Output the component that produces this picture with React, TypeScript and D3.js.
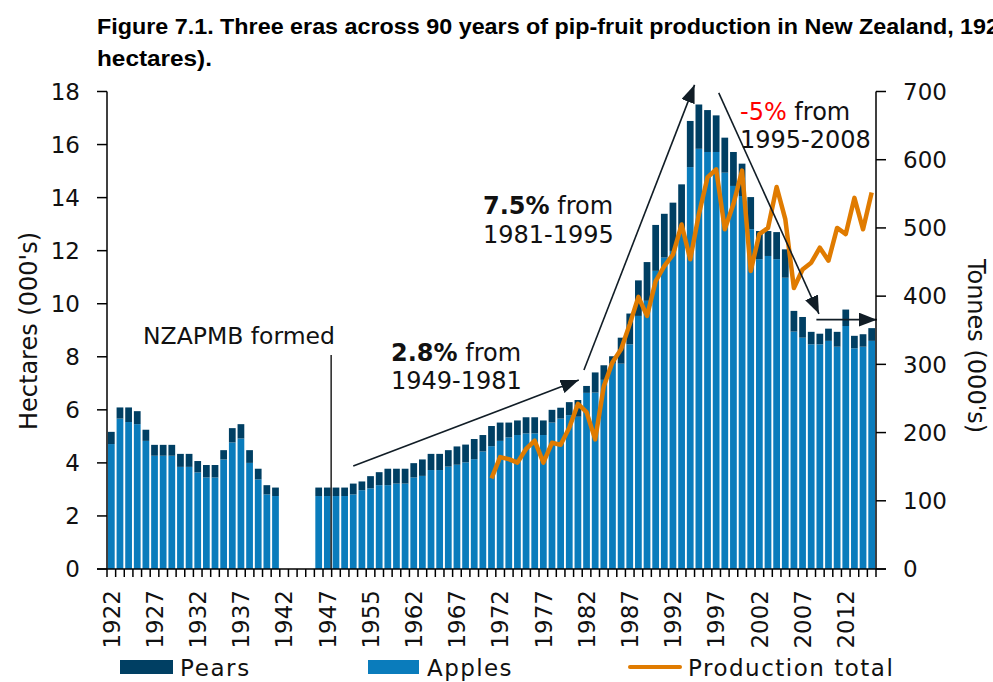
import React from 'react'
import * as d3 from 'd3'

// categories (the source skips some years between 1947 and 1962)
const years: string[] = [
  '1922', '1923', '1924', '1925', '1926', '1927', '1928', '1929', '1930', '1931',
  '1932', '1933', '1934', '1935', '1936', '1937', '1938', '1939', '1940', '1941',
  '1942', '1943', '1944', '1945', '1946', '1947', '1948', '1949', '1950', '1953',
  '1955', '1957', '1959', '1960', '1961', '1962', '1963', '1964', '1965', '1966',
  '1967', '1968', '1969', '1970', '1971', '1972', '1973', '1974', '1975', '1976',
  '1977', '1978', '1979', '1980', '1981', '1982', '1983', '1984', '1985', '1986',
  '1987', '1988', '1989', '1990', '1991', '1992', '1993', '1994', '1995', '1996',
  '1997', '1998', '1999', '2000', '2001', '2002', '2003', '2004', '2005', '2006',
  '2007', '2008', '2009', '2010', '2011', '2012', '2013', '2014', '2015',
]

const shownLabels = ['1922', '1927', '1932', '1937', '1942', '1947', '1955', '1962', '1967',
  '1972', '1977', '1982', '1987', '1992', '1997', '2002', '2007', '2012']

// hectares (000's)
const apples: (number | null)[] = [
  4.71, 5.67, 5.54, 5.46, 4.83, 4.27, 4.27, 4.27, 3.85, 3.85,
  3.64, 3.45, 3.45, 4.13, 4.77, 4.92, 4.0, 3.38, 2.81, 2.75,
  null, null, null, null, 2.75, 2.75, 2.75, 2.75, 2.81, 2.97,
  3.04, 3.16, 3.16, 3.22, 3.22, 3.45, 3.51, 3.73, 3.73, 3.86,
  3.93, 4.02, 4.14, 4.43, 4.63, 4.83, 4.96, 5.05, 5.11, 5.11,
  5.05, 5.52, 5.67, 5.8, 5.74, 6.64, 6.65, 7.13, 7.74, 7.74,
  8.47, 9.54, 10.11, 11.24, 11.74, 11.99, 12.68, 15.15, 15.84, 15.72,
  15.72, 14.94, 14.44, 14.06, 12.81, 11.68, 11.8, 11.68, 10.98, 8.95,
  8.72, 8.47, 8.47, 8.6, 8.38, 9.16, 8.32, 8.38, 8.6,
]

const pears: (number | null)[] = [
  0.46, 0.42, 0.55, 0.49, 0.42, 0.41, 0.41, 0.41, 0.49, 0.49,
  0.43, 0.47, 0.47, 0.35, 0.54, 0.54, 0.48, 0.4, 0.35, 0.32,
  null, null, null, null, 0.32, 0.32, 0.32, 0.32, 0.41, 0.33,
  0.46, 0.49, 0.62, 0.56, 0.56, 0.54, 0.62, 0.61, 0.61, 0.62,
  0.69, 0.67, 0.76, 0.62, 0.76, 0.69, 0.56, 0.55, 0.61, 0.61,
  0.55, 0.48, 0.41, 0.49, 0.63, 0.26, 0.76, 0.55, 0.28, 0.98,
  1.16, 1.34, 1.46, 1.73, 1.65, 1.82, 1.82, 1.74, 1.67, 1.58,
  1.38, 1.32, 1.28, 1.22, 1.21, 1.06, 0.94, 1.02, 1.07, 0.78,
  0.78, 0.47, 0.4, 0.46, 0.56, 0.62, 0.47, 0.47, 0.48,
]

// tonnes (000's), from 1971
const productionYears = years.slice(44)
const production: number[] = [
  133, 164, 161, 156, 176, 188, 156, 185, 182, 207,
  242, 230, 190, 268, 303, 322, 359, 399, 371, 422,
  444, 461, 505, 454, 520, 574, 586, 498, 535, 584,
  437, 491, 500, 560, 513, 412, 439, 449, 471, 452,
  500, 491, 544, 498, 552,
]

const leftTicks = [0, 2, 4, 6, 8, 10, 12, 14, 16, 18]
const rightTicks = [0, 100, 200, 300, 400, 500, 600, 700]

// arrows: [category index start, hectares start, index end, hectares end]
const arrows: [number, number, number, number][] = [
  [28, 3.88, 54.1, 7.12],
  [54.7, 7.5, 67.5, 18.25],
  [70.3, 17.95, 81.9, 9.62],
  [81.6, 9.4, 88.6, 9.4],
]

const pearColor = '#003f63'
const appleColor = '#0a7cbc'
const lineColor = '#e07b00'
const font = "'DejaVu Sans', Verdana, sans-serif"
const titleFont = "'Liberation Sans Narrow', 'Liberation Sans', Arial, sans-serif"

const App = () => {
  const width = 993
  const height = 682
  const left = 107
  const right = 876
  const top = 91.5
  const bottom = 569

  const x = d3.scaleBand<string>().domain(years).range([left, right]).paddingInner(0.22).paddingOuter(0.11)
  const step = x.step()
  const bw = x.bandwidth()
  const yL = d3.scaleLinear().domain([0, 18]).range([bottom, top])
  const yR = d3.scaleLinear().domain([0, 700]).range([bottom, top])
  const cx = (y: string) => (x(y) as number) + bw / 2
  const xi = (i: number) => left + step * (i + 0.5)

  const line = d3.line<number>()
    .x((d, i) => cx(productionYears[i]))
    .y(d => yR(d))

  const boundaries = d3.range(years.length + 1).map(i => left + i * step)

  return (
    <svg width={width} height={height} style={{ position: 'absolute', left: 0, top: 0, background: '#fff' }}>
      <defs>
        <marker id="head" markerUnits="userSpaceOnUse" markerWidth="20" markerHeight="14"
          refX="18" refY="7" orient="auto">
          <path d="M0,0 L18,7 L0,14 Z" fill="#111d26" />
        </marker>
      </defs>

      <text x={97} y={34} fontFamily={titleFont}
        fontWeight="bold" fontSize={22} textLength={902} lengthAdjust="spacingAndGlyphs" fill="#000">
        Figure 7.1. Three eras across 90 years of pip-fruit production in New Zealand, 192
      </text>
      <text x={97} y={66} fontFamily={titleFont}
        fontWeight="bold" fontSize={22} textLength={115} lengthAdjust="spacingAndGlyphs" fill="#000">
        hectares).
      </text>

      {/* bars */}
      {years.map((y, i) => {
        const a = apples[i]
        const p = pears[i]
        if (a == null || p == null) return null
        return (
          <g key={y}>
            <rect x={x(y)} width={bw} y={yL(a)} height={yL(0) - yL(a)} fill={appleColor} />
            <rect x={x(y)} width={bw} y={yL(a + p)} height={yL(a) - yL(a + p)} fill={pearColor} />
          </g>
        )
      })}

      {/* production line */}
      <path d={line(production) || ''} fill="none" stroke={lineColor} strokeWidth={4.5} strokeLinejoin="round" />

      {/* NZAPMB marker */}
      <line x1={left + 26 * step - 0.5} x2={left + 26 * step - 0.5} y1={355} y2={bottom} stroke="#222" strokeWidth={1.5} />
      <text x={143} y={344} fontFamily={font} fontSize={23.5} fill="#111">NZAPMB formed</text>

      {/* arrows */}
      {arrows.map((a, i) => (
        <line key={i} x1={xi(a[0])} y1={yL(a[1])} x2={xi(a[2])} y2={yL(a[3])}
          stroke="#111d26" strokeWidth={1.6} markerEnd="url(#head)" />
      ))}

      <text x={391} y={361} fontFamily={font} fontSize={24} fill="#111">
        <tspan fontWeight="bold">2.8%</tspan> from
      </text>
      <text x={391} y={389} fontFamily={font} fontSize={24} fill="#111">1949-1981</text>
      <text x={483} y={214} fontFamily={font} fontSize={24} fill="#111">
        <tspan fontWeight="bold">7.5%</tspan> from
      </text>
      <text x={483} y={243} fontFamily={font} fontSize={24} fill="#111">1981-1995</text>
      <text x={740} y={120} fontFamily={font} fontSize={24} fill="#111">
        <tspan fill="#ff0000">-5%</tspan> from
      </text>
      <text x={740} y={148} fontFamily={font} fontSize={24} fill="#111">1995-2008</text>

      {/* axes */}
      <g stroke="#000" strokeWidth={1.5}>
        <line x1={left} x2={left} y1={top} y2={bottom} />
        <line x1={right} x2={right} y1={top} y2={bottom} />
        <line x1={97} x2={886} y1={bottom} y2={bottom} />
        {leftTicks.map(t => <line key={'l' + t} x1={97} x2={left} y1={yL(t)} y2={yL(t)} />)}
        {rightTicks.map(t => <line key={'r' + t} x1={right} x2={886} y1={yR(t)} y2={yR(t)} />)}
        {boundaries.map((b, i) => <line key={'b' + i} x1={b} x2={b} y1={bottom} y2={bottom + 8} />)}
      </g>

      {leftTicks.map(t => (
        <text key={'lt' + t} x={80} y={yL(t)} dy="0.36em" textAnchor="end"
          fontFamily={font} fontSize={23} fill="#111">{t}</text>
      ))}
      {rightTicks.map(t => (
        <text key={'rt' + t} x={903} y={yR(t)} dy="0.36em" textAnchor="start"
          fontFamily={font} fontSize={23} fill="#111">{t}</text>
      ))}
      {shownLabels.map(y => (
        <text key={'x' + y} transform={`translate(${cx(y)},590) rotate(-90)`} dy="0.36em" textAnchor="end"
          fontFamily={font} fontSize={23} fill="#111">{y}</text>
      ))}

      <text transform="translate(28,331) rotate(-90)" dy="0.36em" textAnchor="middle"
        fontFamily={font} fontSize={24} fill="#111">Hectares (000's)</text>
      <text transform="translate(977,346) rotate(90)" dy="0.36em" textAnchor="middle"
        fontFamily={font} fontSize={24} fill="#111">Tonnes (000's)</text>

      {/* legend */}
      <rect x={120} y={660} width={53} height={14} fill={pearColor} />
      <text x={180} y={676} fontFamily={font} fontSize={23} letterSpacing={1.6} fill="#111">Pears</text>
      <rect x={368} y={660} width={51} height={14} fill={appleColor} />
      <text x={427} y={676} fontFamily={font} fontSize={23} letterSpacing={1.4} fill="#111">Apples</text>
      <line x1={630} x2={680} y1={667} y2={667} stroke={lineColor} strokeWidth={4} strokeLinecap="round" />
      <text x={688} y={676} fontFamily={font} fontSize={23} letterSpacing={1.5} fill="#111">Production total</text>
    </svg>
  )
}

export default App
